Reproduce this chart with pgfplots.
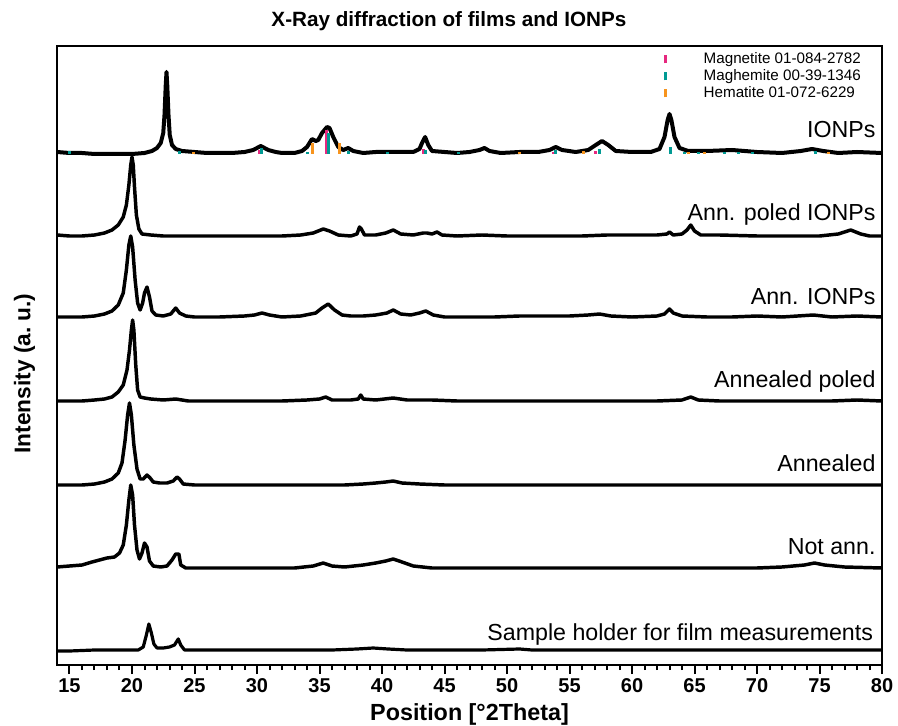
\documentclass[border=0pt]{standalone}
\usepackage{fontspec}
\setmainfont{Liberation Sans}
\usepackage{pgfplots}
\pgfplotsset{compat=1.18}

\definecolor{magnetite}{HTML}{E6287F}
\definecolor{maghemite}{HTML}{009A93}
\definecolor{hematite}{HTML}{F7941D}

\begin{document}
\begin{tikzpicture}
\begin{axis}[
    scale only axis,
    width=618.75pt, height=464.25pt,
    xmin=14, xmax=80, ymin=0, ymax=619,
    ytick=\empty,
    xtick={15,20,...,80},
    minor x tick num=4,
    xtick pos=bottom,
    tick align=outside,
    major tick length=6.75pt,
    minor tick length=3.75pt,
    every tick/.style={black, line width=1.5pt},
    axis line style={line width=2pt},
    /pgf/number format/assume math mode=true,
    ticklabel style={font=\bfseries\fontsize{15}{18}\selectfont},
    title={X-Ray diffraction of films and IONPs},
    title style={at={(axis description cs:0.475,1)}, anchor=base, yshift=8.25pt,
        font=\bfseries\fontsize{15.5}{18}\selectfont},
    xlabel={Position [°2Theta]},
    xlabel style={at={(axis description cs:0.5,0)}, anchor=base, yshift=-41.5pt,
        font=\bfseries\fontsize{17.5}{20}\selectfont},
    ylabel={Intensity (a.\ u.)},
    ylabel style={at={(axis description cs:0,0.471)}, anchor=base, yshift=20pt,
        font=\bfseries\fontsize{17}{20}\selectfont},
    unbounded coords=jump,
    legend cell align=left,
    legend style={draw=none, fill=none, at={(rel axis cs:0.982,0.997)}, anchor=north east,
        font=\fontsize{11.4}{13}\selectfont,
        nodes={inner sep=1.5pt},
        /tikz/every odd column/.append style={column sep=26pt}},
    legend image code/.code={\draw[#1, line cap=butt] (0pt,-3pt) -- (0pt,3pt);},
]
% IONPs
\addplot[black, line width=3pt, line join=round, forget plot] coordinates {
(14,513) (15,512) (16,512) (17,511) (18,511) (19,511) (20,511) (21,512) (21.6,514) (22.0,517)
(22.3,522) (22.5,532) (22.6,550) (22.7,580) (22.76,593) (22.82,580) (22.92,550) (23.02,530)
(23.2,520) (23.5,516) (24,514) (25,513) (26,512) (27,512) (28,512) (29,513) (29.7,515)
(30.3,519) (30.9,515) (31.5,513) (32,512) (33,512) (33.6,514) (34.0,518) (34.4,526) (34.7,524)
(34.9,525) (35.2,532) (35.6,538) (35.8,537) (36.1,528) (36.5,518) (36.9,515) (37.3,517)
(37.7,514) (38.5,512) (39.5,513) (40.5,513) (41.5,513) (42.5,513) (43.0,516) (43.2,522)
(43.45,528) (43.7,520) (44.0,514) (45,513) (46,512) (47,513) (47.8,515) (48.2,517) (48.6,514)
(49.5,512) (51,513) (52.5,513) (53.4,515) (53.9,518) (54.4,515) (55.5,513) (56.5,515)
(57.1,520) (57.6,524) (58.1,520) (58.7,514) (60,513) (61.5,513) (62.2,516) (62.6,528)
(62.85,545) (63.0,551) (63.15,545) (63.4,528) (63.8,517) (64.5,514) (66,514) (68,515)
(70,513) (72,512) (73.5,514) (74.4,516) (75.3,514) (76.5,512) (78,513) (80,512)};
% Ann. poled IONPs
\addplot[black, line width=2.6pt, line join=round, forget plot] coordinates {
(14,430) (15,429) (16,429) (17,430) (17.8,432) (18.4,435) (18.9,440) (19.3,448) (19.55,460)
(19.75,480) (19.9,500) (20.0,508) (20.1,500) (20.2,478) (20.35,450) (20.55,436) (20.8,431)
(21.5,430) (22.5,429) (24,429) (26,429) (28,429) (30,429) (32,429) (33.5,430) (34.5,432)
(35.3,436) (35.8,434) (36.5,430) (37.5,429) (38.0,431) (38.2,438) (38.35,436) (38.6,430)
(39.5,430) (40.3,432) (40.9,435) (41.5,431) (42.5,430) (43.3,432) (43.6,432) (44.0,431)
(44.4,433) (44.8,430) (46,429) (48,430) (50,429) (52,429) (54,429) (56,429) (58,430) (60,430)
(62,430) (62.8,431) (63.0,433) (63.3,430) (64.0,431) (64.4,435) (64.7,440) (65.0,434)
(65.5,430) (67,430) (70,429) (73,429) (75,429) (76.5,431) (77.5,435) (78.3,431) (79,429) (80,429)};
% Ann. IONPs
\addplot[black, line width=2.6pt, line join=round, forget plot] coordinates {
(14,348) (15,348) (16,348) (17,349) (17.8,351) (18.4,354) (18.9,360) (19.3,372) (19.55,395)
(19.75,420) (19.9,429) (20.05,418) (20.25,385) (20.45,362) (20.65,355) (20.85,362) (21.0,372)
(21.2,378) (21.4,368) (21.6,354) (21.9,350) (22.5,349) (23.1,351) (23.5,357) (23.8,352)
(24.3,349) (25,348) (27,348) (29,349) (29.8,350) (30.4,352) (31.0,350) (32,348) (33.5,349)
(34.7,352) (35.2,357) (35.7,361) (36.2,355) (36.8,350) (37.5,349) (38.5,349) (39.5,350)
(40.4,352) (40.9,355) (41.5,351) (42.3,350) (43.0,352) (43.5,354) (44.1,350) (45,348)
(47,348) (49,348) (51,349) (53,349) (55,349) (56.5,350) (57.4,351) (58.3,349) (60,348)
(62,349) (62.6,351) (63.0,356) (63.3,352) (64,349) (66,348) (68,348) (70,349) (72,348)
(74.5,350) (76,348) (78,349) (80,348)};
% Annealed poled
\addplot[black, line width=2.6pt, line join=round, forget plot] coordinates {
(14,264) (15,264) (16,264) (17,265) (17.8,266) (18.4,268) (18.9,273) (19.3,280) (19.6,295)
(19.8,315) (19.95,335) (20.05,345) (20.15,335) (20.3,300) (20.45,275) (20.65,268) (21.0,267)
(21.5,266) (22.5,265) (23.5,266) (24.5,264) (26,264) (28,264) (30,264) (32,264) (34,265)
(35.0,266) (35.5,268) (36.0,265) (37.5,265) (38.1,266) (38.3,270) (38.5,266) (39.5,265)
(40.9,267) (42,265) (44,265) (46,264) (48,264) (50,264) (52,264) (54,264) (56,264) (58,264)
(60,264) (62,264) (64.0,265) (64.7,268) (65.3,265) (67,264) (70,264) (73,264) (76,264)
(78,265) (80,264)};
% Annealed
\addplot[black, line width=2.6pt, line join=round, forget plot] coordinates {
(14,180) (15,180) (16,180) (17,181) (17.8,183) (18.4,186) (18.9,192) (19.2,202) (19.45,225)
(19.65,250) (19.8,262) (19.95,250) (20.15,220) (20.4,196) (20.65,186) (20.9,186) (21.2,190)
(21.45,187) (21.7,183) (22.2,182) (22.8,182) (23.3,184) (23.6,188) (23.8,186) (24.1,181)
(25,180) (27,180) (29,180) (31,180) (33,180) (35,180) (37,180) (38.5,181) (39.5,182)
(40.3,183) (40.9,184) (41.6,182) (43,181) (45,180) (48,180) (51,180) (54,180) (57,180)
(60,180) (63,180) (66,180) (69,180) (72,180) (75,180) (78,180) (80,180)};
% Not ann.
\addplot[black, line width=2.6pt, line join=round, forget plot] coordinates {
(14,98) (15,99) (16,100) (16.8,103) (17.4,105) (18.0,107) (18.6,108) (19.0,112) (19.3,120)
(19.55,140) (19.75,165) (19.9,180) (20.05,170) (20.2,140) (20.4,115) (20.6,106) (20.8,112)
(21.0,122) (21.2,118) (21.4,104) (21.7,99) (22.3,98) (22.8,99) (23.2,105) (23.5,111)
(23.75,111) (23.9,100) (24.3,97) (25,97) (27,97) (29,97) (31,97) (33,97) (34.5,99) (35.3,102)
(36,99) (37,98) (38.5,100) (39.5,102) (40.3,104) (40.9,106) (41.6,103) (42.5,99) (44,97)
(46,97) (48,97) (50,97) (52,97) (54,97) (56,97) (58,97) (60,97) (62,97) (64,97) (66,97)
(68,97) (70,97) (72,98) (73.8,100) (74.6,102) (75.4,100) (77,98) (80,97)};
% Sample holder
\addplot[black, line width=2.4pt, line join=round, forget plot] coordinates {
(14,14) (15,14) (17,15) (19,15) (20.5,15) (20.9,18) (21.15,30) (21.35,41) (21.55,32)
(21.75,21) (22.0,17) (22.5,17) (23.0,18) (23.4,20) (23.7,26) (23.9,20) (24.2,15) (25,15)
(27,15) (30,15) (33,15) (36,15) (38,16) (39.3,17) (40.5,16) (42,15) (45,15) (48,15) (51,16)
(52,15) (55,15) (58,15) (61,15) (64,15) (67,15) (70,15) (73,15) (76,15) (80,15)};
% reference patterns
\addplot[magnetite, line width=2.25pt, line cap=butt] coordinates {
(30.2,511) (30.2,515) (30.2,nan)
(35.55,511) (35.55,535) (35.55,nan)
(43.35,511) (43.35,516) (43.35,nan)
(53.7,511) (53.7,513) (53.7,nan)
(57.1,511) (57.1,514) (57.1,nan)};
\addlegendentry{Magnetite 01-084-2782}
\addplot[maghemite, line width=2.25pt, line cap=butt] coordinates {
(15.0,511) (15.0,514) (15.0,nan)
(23.8,511) (23.8,514) (23.8,nan)
(30.35,511) (30.35,517) (30.35,nan)
(34.0,511) (34.0,513) (34.0,nan)
(35.7,511) (35.7,532) (35.7,nan)
(37.3,511) (37.3,514) (37.3,nan)
(40.4,511) (40.4,513) (40.4,nan)
(43.45,511) (43.45,515) (43.45,nan)
(46.1,511) (46.1,513) (46.1,nan)
(53.9,511) (53.9,515) (53.9,nan)
(57.4,511) (57.4,516) (57.4,nan)
(63.1,511) (63.1,518) (63.1,nan)
(64.2,511) (64.2,513) (64.2,nan)
(65.3,511) (65.3,513) (65.3,nan)
(67.4,511) (67.4,513) (67.4,nan)
(68.5,511) (68.5,513) (68.5,nan)
(69.6,511) (69.6,513) (69.6,nan)
(74.7,511) (74.7,514) (74.7,nan)};
\addlegendentry{Maghemite 00-39-1346}
\addplot[hematite, line width=2.25pt, line cap=butt] coordinates {
(24.9,511) (24.9,513) (24.9,nan)
(34.45,511) (34.45,522) (34.45,nan)
(36.6,511) (36.6,522) (36.6,nan)
(51.0,511) (51.0,513) (51.0,nan)
(56.1,511) (56.1,514) (56.1,nan)
(64.5,511) (64.5,513) (64.5,nan)
(65.8,511) (65.8,513) (65.8,nan)
(75.7,511) (75.7,513) (75.7,nan)};
\addlegendentry{Hematite 01-072-6229}
% labels
\begin{scope}[every node/.style={anchor=base east, inner sep=0pt, font=\fontsize{17.4}{20}\selectfont}]
\node at (axis cs:79.5,527) {IONPs};
\node at (axis cs:79.5,444) {Ann. poled IONPs};
\node at (axis cs:79.5,360) {Ann. IONPs};
\node at (axis cs:79.5,277) {Annealed poled};
\node at (axis cs:79.5,194) {Annealed};
\node at (axis cs:79.5,111) {Not ann.};
\node at (axis cs:79.3,25) {Sample holder for film measurements};
\end{scope}
\end{axis}
\pgfresetboundingbox
\path[use as bounding box] ([shift={(-42.75pt,-45pt)}]current axis.south west)
    rectangle ([shift={(12pt,34.5pt)}]current axis.north east);
\end{tikzpicture}
\end{document}
